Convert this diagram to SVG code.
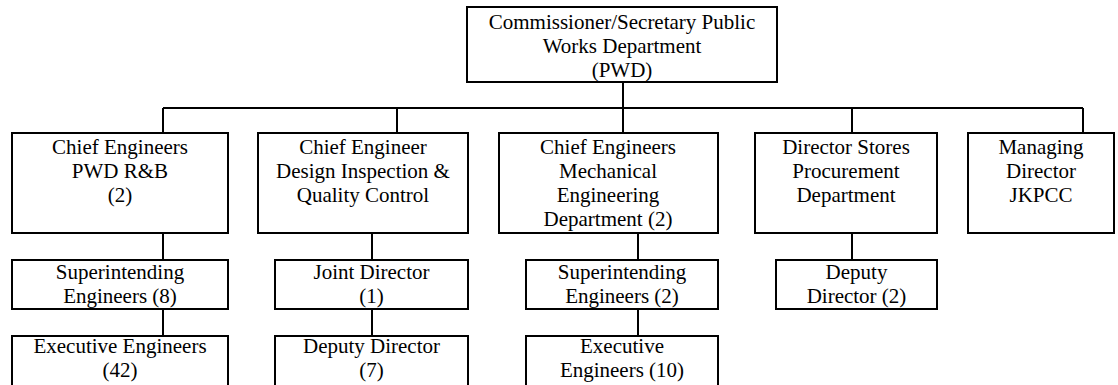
<svg xmlns="http://www.w3.org/2000/svg" width="1118" height="385" viewBox="0 0 1118 385">
<style>
.box{fill:#fff;stroke:#000;stroke-width:2}
.ln{fill:none;stroke:#000;stroke-width:2}
.t text{font-size:21px;fill:#000;text-anchor:middle}
</style>
<rect width="1118" height="385" fill="#fff"/>
<g id="connectors">
<path class="ln" d="M623 82V108M163 108H1083M163 108V133M397 108V133M623 108V133M852 108V133M1083 108V133"/>
<path class="ln" d="M163 233V260M372 233V260M638 233V260M852 233V260"/>
<path class="ln" d="M163 309V336M372 309V336M638 309V336"/>
</g>
<g class="t" font-family="Liberation Serif, Times New Roman, Tinos, DejaVu Serif, Noto Serif, serif">
<g id="commissioner">
<rect class="box" x="467" y="7" width="310" height="75"/>
<text x="622" y="29">Commissioner/Secretary Public</text>
<text x="622" y="53">Works Department</text>
<text x="622" y="77">(PWD)</text>
</g>
<g id="ce-pwd">
<rect class="box" x="12" y="133" width="216" height="100"/>
<text x="120" y="154">Chief Engineers</text>
<text x="120" y="178">PWD R&amp;B</text>
<text x="120" y="202">(2)</text>
</g>
<g id="ce-design">
<rect class="box" x="258" y="133" width="210" height="100"/>
<text x="363" y="154">Chief Engineer</text>
<text x="363" y="178">Design Inspection &amp;</text>
<text x="363" y="202">Quality Control</text>
</g>
<g id="ce-mech">
<rect class="box" x="499" y="133" width="219" height="100"/>
<text x="608" y="154">Chief Engineers</text>
<text x="608" y="178">Mechanical</text>
<text x="608" y="202">Engineering</text>
<text x="608" y="226">Department (2)</text>
</g>
<g id="dir-stores">
<rect class="box" x="755" y="133" width="182" height="100"/>
<text x="846" y="154">Director Stores</text>
<text x="846" y="178">Procurement</text>
<text x="846" y="202">Department</text>
</g>
<g id="md-jkpcc">
<rect class="box" x="968" y="133" width="146" height="100"/>
<text x="1041" y="154">Managing</text>
<text x="1041" y="178">Director</text>
<text x="1041" y="202">JKPCC</text>
</g>
<g id="se-8">
<rect class="box" x="12" y="260" width="216" height="49"/>
<text x="120" y="279">Superintending</text>
<text x="120" y="303">Engineers (8)</text>
</g>
<g id="joint-dir">
<rect class="box" x="275" y="260" width="193" height="49"/>
<text x="371.5" y="279">Joint Director</text>
<text x="371.5" y="303">(1)</text>
</g>
<g id="se-2">
<rect class="box" x="526" y="260" width="192" height="49"/>
<text x="622" y="279">Superintending</text>
<text x="622" y="303">Engineers (2)</text>
</g>
<g id="dep-dir-2">
<rect class="box" x="776" y="260" width="161" height="49"/>
<text x="856.5" y="279">Deputy</text>
<text x="856.5" y="303">Director (2)</text>
</g>
<g id="ee-42">
<rect class="box" x="12" y="336" width="216" height="60"/>
<text x="120" y="353">Executive Engineers</text>
<text x="120" y="377">(42)</text>
</g>
<g id="dep-dir-7">
<rect class="box" x="275" y="336" width="193" height="60"/>
<text x="371.5" y="353">Deputy Director</text>
<text x="371.5" y="377">(7)</text>
</g>
<g id="ee-10">
<rect class="box" x="526" y="336" width="192" height="60"/>
<text x="622" y="353">Executive</text>
<text x="622" y="377">Engineers (10)</text>
</g>
</g>
</svg>
